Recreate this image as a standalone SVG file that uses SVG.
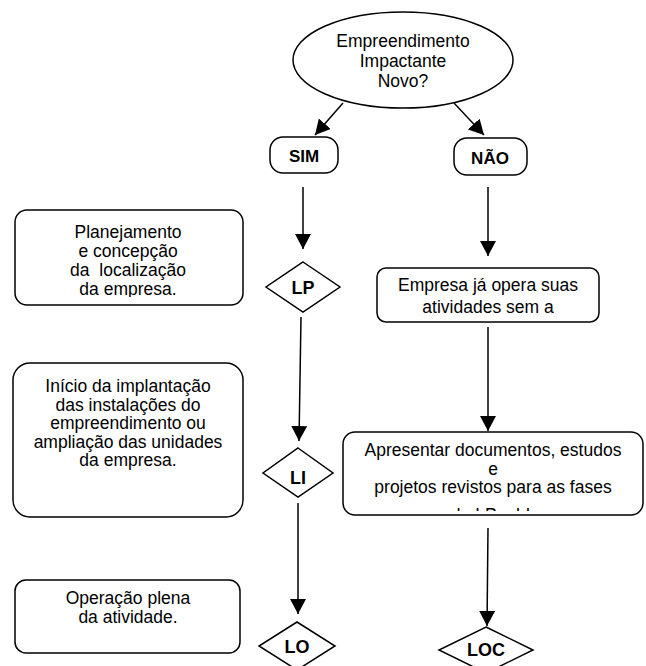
<svg xmlns="http://www.w3.org/2000/svg" width="646" height="666" viewBox="0 0 646 666">
<style>
.shape{fill:#fff;stroke:#000;stroke-width:1.5}
.t{font-family:"Liberation Sans",Arial,sans-serif;font-size:17.5px;fill:#000;text-anchor:middle}
.b{font-family:"Liberation Sans",Arial,sans-serif;font-size:18px;font-weight:bold;fill:#000;text-anchor:middle}
.c{stroke:#000;stroke-width:1.5;fill:none;marker-end:url(#ah)}
</style>
<defs>
<marker id="ah" markerUnits="userSpaceOnUse" markerWidth="16" markerHeight="17" refX="15" refY="8" orient="auto">
<path d="M0,0 L15,8 L0,16 z" fill="#000"/>
</marker>
<clipPath id="clipL1"><rect x="15" y="210" width="228" height="87"/></clipPath>
<clipPath id="clipR2"><rect x="343" y="432" width="300" height="79"/></clipPath>
</defs>
<rect width="646" height="666" fill="#fff"/>
<g id="connectors">
<line class="c" x1="343" y1="103" x2="315" y2="135"/>
<line class="c" x1="454" y1="103" x2="484" y2="135"/>
<line class="c" x1="303" y1="187" x2="303" y2="249"/>
<line class="c" x1="488" y1="187" x2="488" y2="256"/>
<line class="c" x1="301" y1="317" x2="299" y2="441"/>
<line class="c" x1="298" y1="503" x2="298" y2="614"/>
<line class="c" x1="488" y1="327" x2="488" y2="431"/>
<line class="c" x1="488" y1="528" x2="487" y2="626"/>
</g>
<g id="decision">
<ellipse class="shape" cx="403" cy="60" rx="110" ry="48"/>
<text class="t" x="403" y="47">Empreendimento</text>
<text class="t" x="403" y="67">Impactante</text>
<text class="t" x="403" y="87">Novo?</text>
</g>
<g id="sim">
<rect class="shape" x="270" y="137" width="68" height="36" rx="13"/>
<text class="b" x="304" y="162" style="font-size:17px">SIM</text>
</g>
<g id="nao">
<rect class="shape" x="454" y="138" width="73" height="37" rx="13"/>
<text class="b" x="490" y="164" style="font-size:17px">NÃO</text>
</g>
<g id="planejamento">
<rect class="shape" x="15" y="210" width="228" height="95" rx="12"/>
<g clip-path="url(#clipL1)">
<text class="t" x="128" y="238">Planejamento</text>
<text class="t" x="128" y="257">e concepção</text>
<text class="t" x="128" y="276" xml:space="preserve">da  localização</text>
<text class="t" x="128" y="295">da empresa.</text>
</g>
</g>
<g id="lp">
<polygon class="shape" points="303,262 340,287 303,312 266,287"/>
<text class="b" x="303" y="294">LP</text>
</g>
<g id="empresa-opera">
<rect class="shape" x="377" y="268" width="222" height="54" rx="9"/>
<text class="t" x="488" y="291">Empresa já opera suas</text>
<text class="t" x="488" y="313">atividades sem a</text>
</g>
<g id="inicio">
<rect class="shape" x="13" y="363" width="230" height="154" rx="17"/>
<text class="t" x="128" y="392">Início da implantação</text>
<text class="t" x="128" y="410.5">das instalações do</text>
<text class="t" x="128" y="429">empreendimento ou</text>
<text class="t" x="128" y="447.5">ampliação das unidades</text>
<text class="t" x="128" y="466">da empresa.</text>
</g>
<g id="li">
<polygon class="shape" points="298,448 333,473 298,497 263,473"/>
<text class="b" x="298" y="484">LI</text>
</g>
<g id="apresentar">
<rect class="shape" x="343" y="432" width="300" height="83" rx="12"/>
<g clip-path="url(#clipR2)">
<text class="t" x="493" y="456">Apresentar documentos, estudos</text>
<text class="t" x="493" y="474.5">e</text>
<text class="t" x="493" y="493">projetos revistos para as fases</text>
<text class="t" x="493" y="521">de LP e LI.</text>
</g>
</g>
<g id="operacao">
<rect class="shape" x="15" y="580" width="225" height="73" rx="11"/>
<text class="t" x="128" y="604">Operação plena</text>
<text class="t" x="128" y="623">da atividade.</text>
</g>
<g id="lo">
<polygon class="shape" points="297,622 335,646 297,670 259,646"/>
<text class="b" x="297" y="653">LO</text>
</g>
<g id="loc">
<polygon class="shape" points="486,627 533,650 486,673 439,650"/>
<text class="b" x="486" y="656">LOC</text>
</g>
</svg>
